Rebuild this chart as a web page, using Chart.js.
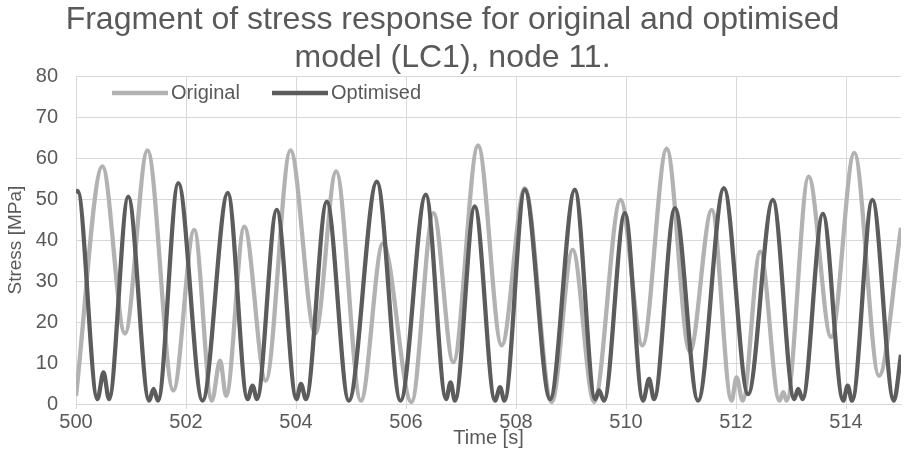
<!DOCTYPE html>
<html>
<head>
<meta charset="utf-8">
<script src="https://cdn.jsdelivr.net/npm/chart.js@4.4.0/dist/chart.umd.min.js"></script>
<style>
  html, body { margin: 0; padding: 0; background: #fff; }
  canvas { display: block; }
</style>
</head>
<body>
<canvas id="stressChart" width="906" height="453"></canvas>
<script>
// Original model, node 11 - turning points
const origTime = [500.00, 500.48, 500.89, 501.30, 501.77, 502.15, 502.47, 502.62, 502.73, 503.06,
    503.45, 503.90, 504.35, 504.73, 505.18, 505.58, 506.10, 506.50, 506.86, 507.31,
    507.74, 508.16, 508.65, 509.03, 509.42, 509.90, 510.30, 510.74, 511.16, 511.56,
    511.92, 512.01, 512.12, 512.44, 512.79, 512.86, 512.92, 513.32, 513.73, 514.15,
    514.60, 515.00];
const origStress = [2.0, 58.0, 17.2, 61.9, 3.3, 42.5, 0.8, 10.6, 2.0, 43.3,
    5.7, 61.9, 17.2, 56.8, 0.8, 39.2, 0.5, 46.6, 10.2, 63.1,
    14.3, 52.7, 0.5, 37.6, 0.5, 49.8, 14.3, 62.3, 12.7, 47.4,
    0.8, 6.5, 0.8, 37.2, 0.8, 2.9, 0.8, 55.5, 16.3, 61.3,
    6.9, 43.0];

// Optimised model
const optTime = [500.00, 500.03, 500.39, 500.50, 500.60, 500.95, 501.33, 501.41, 501.49, 501.86,
    502.30, 502.76, 503.12, 503.21, 503.29, 503.65, 504.01, 504.09, 504.18, 504.56,
    504.96, 505.47, 505.90, 506.36, 506.73, 506.81, 506.89, 507.25, 507.62, 507.71,
    507.79, 508.16, 508.62, 509.07, 509.44, 509.51, 509.60, 509.98, 510.31, 510.42,
    510.51, 510.89, 511.31, 511.78, 512.22, 512.67, 513.06, 513.13, 513.21, 513.58,
    513.95, 514.03, 514.11, 514.48, 514.87, 515.00];
const optStress = [51.5, 52.0, 1.2, 7.7, 1.2, 50.6, 0.8, 3.7, 0.8, 53.9,
    0.8, 51.5, 1.2, 4.5, 1.2, 47.4, 1.2, 4.9, 1.2, 49.4,
    0.8, 54.3, 0.8, 51.1, 1.2, 5.3, 0.8, 48.2, 0.8, 4.1,
    0.8, 52.3, 1.2, 52.3, 1.2, 3.3, 0.8, 46.6, 0.8, 6.1,
    1.2, 47.8, 0.8, 52.7, 2.4, 49.8, 1.2, 3.7, 1.2, 46.4,
    0.8, 4.5, 0.8, 49.8, 0.8, 12.0];

const textColor = '#595959';
const gridColor = '#d9d9d9';
const fontFamily = '"Liberation Sans", Arial, sans-serif';
Chart.defaults.font.family = fontFamily;
Chart.defaults.color = textColor;

function toPoints(times, values) {
    return times.map((t, i) => ({ x: t, y: values[i] }));
}

// Legend sits inside the plot, top left, drawn by hand
const insideLegend = {
    id: 'insideLegend',
    afterDraw(chart) {
        const c = chart.ctx;
        const starts = [112, 272];
        const y = 93;
        c.save();
        c.font = '20px ' + fontFamily;
        c.textBaseline = 'middle';
        c.textAlign = 'left';
        chart.data.datasets.forEach((ds, i) => {
            const x = starts[i];
            c.strokeStyle = ds.borderColor;
            c.lineWidth = ds.borderWidth;
            c.beginPath();
            c.moveTo(x, y);
            c.lineTo(x + 56, y);
            c.stroke();
            c.fillStyle = textColor;
            c.fillText(ds.label, x + 59, y);
        });
        c.restore();
    }
};

const ctx = document.getElementById('stressChart').getContext('2d');
const stressChart = new Chart(ctx, {
    type: 'line',
    data: {
        datasets: [{
            label: 'Original',
            data: toPoints(origTime, origStress),
            borderColor: '#b2b2b2',
            borderWidth: 4.3,
            pointRadius: 0,
            cubicInterpolationMode: 'monotone',
            order: 1
        }, {
            label: 'Optimised',
            data: toPoints(optTime, optStress),
            borderColor: '#5c5c5c',
            borderWidth: 4.3,
            pointRadius: 0,
            cubicInterpolationMode: 'monotone',
            order: 0
        }]
    },
    options: {
        responsive: false,
        animation: false,
        devicePixelRatio: 1,
        layout: {
            padding: { left: 4, right: 5, top: 0, bottom: 0 }
        },
        plugins: {
            title: {
                display: true,
                text: ['Fragment of stress response for original and optimised', 'model (LC1), node 11.'],
                color: textColor,
                font: { size: 32, weight: 'normal', lineHeight: 1.16 },
                padding: { top: 2, bottom: 0 }
            },
            legend: { display: false },
            tooltip: { enabled: false }
        },
        scales: {
            x: {
                type: 'linear',
                min: 500,
                max: 515,
                afterFit: (scale) => { scale.height = 49; },
                ticks: {
                    stepSize: 2,
                    includeBounds: false,
                    maxRotation: 0,
                    padding: 1,
                    font: { size: 20 }
                },
                grid: { color: gridColor, tickLength: 5 },
                border: { color: gridColor },
                title: {
                    display: true,
                    text: 'Time [s]',
                    font: { size: 20 },
                    padding: { top: 0, bottom: 3 }
                }
            },
            y: {
                min: 0,
                max: 80,
                afterFit: (scale) => { scale.width = 72; },
                ticks: {
                    stepSize: 10,
                    padding: 18,
                    font: { size: 20 }
                },
                grid: { color: gridColor, drawTicks: false },
                border: { color: gridColor },
                title: {
                    display: true,
                    text: 'Stress [MPa]',
                    font: { size: 19 },
                    padding: { top: 0, bottom: 0 }
                }
            }
        }
    },
    plugins: [insideLegend]
});
</script>
</body>
</html>
